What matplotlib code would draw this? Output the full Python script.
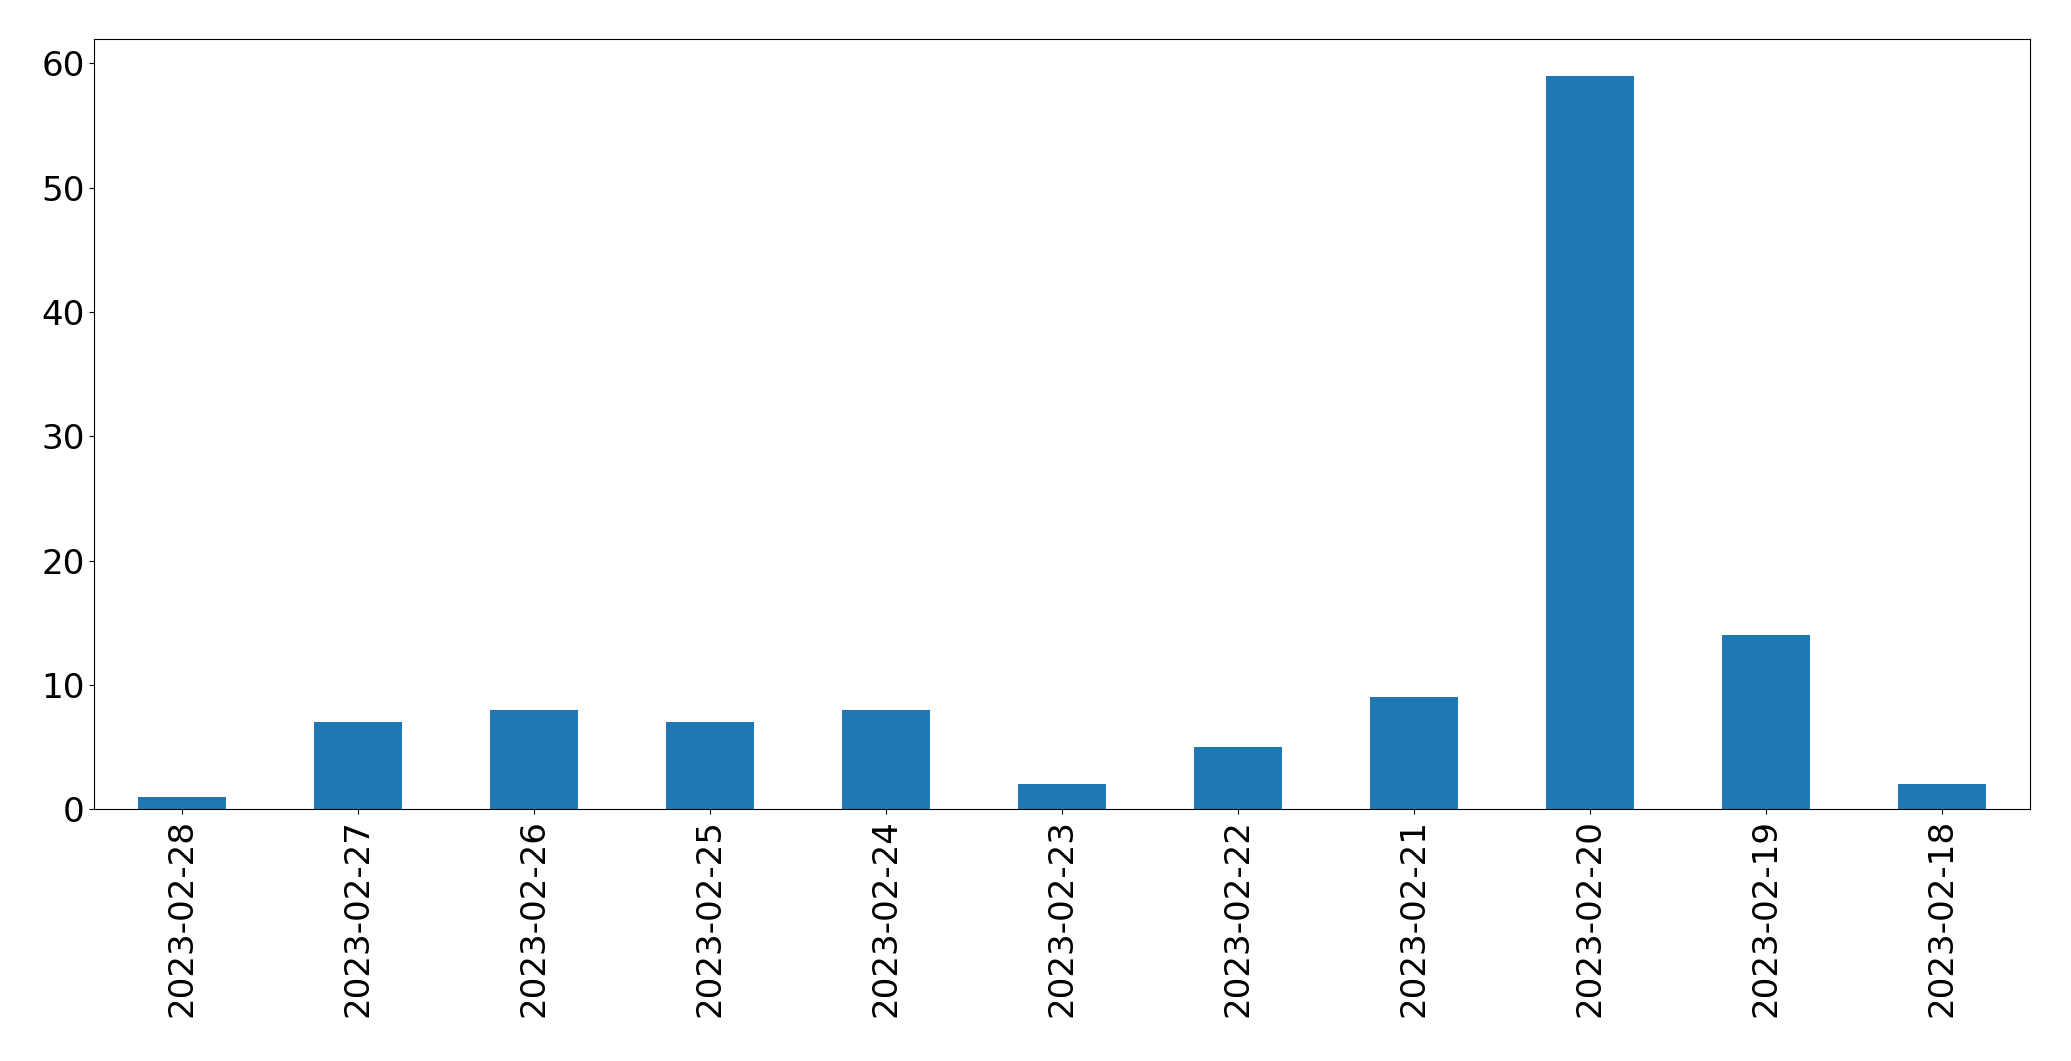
import pandas as pd
import matplotlib
matplotlib.use("Agg")
import matplotlib.pyplot as plt

plt.rcParams.update({'font.size': 24.6})

dates = ["2023-02-28", "2023-02-27", "2023-02-26", "2023-02-25", "2023-02-24",
         "2023-02-23", "2023-02-22", "2023-02-21", "2023-02-20", "2023-02-19",
         "2023-02-18"]
counts = [1, 7, 8, 7, 8, 2, 5, 9, 59, 14, 2]

s = pd.Series(counts, index=dates)

fig = plt.figure(figsize=(20.71, 10.61), dpi=100)
ax = fig.add_subplot(111)
s.plot(kind="bar", ax=ax, color="#1f77b4")

fig.subplots_adjust(left=0.0456, right=0.980, top=0.963, bottom=0.2375)
plt.savefig("out.png", dpi=100)
